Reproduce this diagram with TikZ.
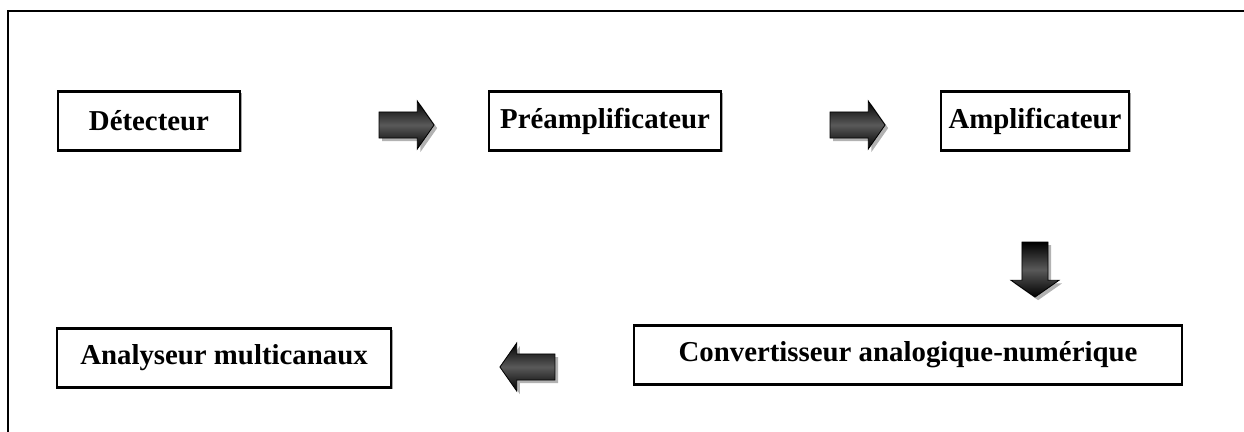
\documentclass[tikz,border=0pt]{standalone}
\usepackage{fontspec}
\setmainfont{Liberation Serif}
\usetikzlibrary{shapes.arrows,shadows}

\tikzset{
  etage/.style={shape=rectangle,draw=black,line width=1.5pt,fill=white,
    font=\fontsize{20.5}{24}\selectfont\bfseries,inner sep=0pt,
    minimum height=1.475cm,
    drop shadow={shadow xshift=1.2pt,shadow yshift=-1.2pt,fill=gray!70,opacity=1}},
  fleche/.style={single arrow,draw=black,line width=0.6pt,inner sep=0pt,
    text height=0.575cm,text depth=0pt,text width=0pt,
    minimum width=1.2cm,minimum height=1.375cm,single arrow tip angle=110,
    shading=axis,top color=black,bottom color=black,middle color=gray!70!black,
    drop shadow={shadow xshift=2.2pt,shadow yshift=-2.2pt,fill=gray!60,opacity=1}}
}

\begin{document}
\begin{tikzpicture}[x=0.025cm,y=-0.025cm]
\useasboundingbox (0,0) rectangle (1244,432);
\draw[line width=1pt] (8,432) -- (8,11) -- (1244,11);

\node[etage,minimum width=4.55cm] (D) at (149,121) {Détecteur};
\node[etage,minimum width=5.8cm] (P) at (605,121) {Préamplificateur};
\node[etage,minimum width=4.7cm] (A) at (1035,121) {Amplificateur};
\node[etage,minimum width=13.675cm] (C) at (908,355) {Convertisseur analogique-numérique};
\node[etage,minimum width=8.35cm] (M) at (224,358) {Analyseur multicanaux};

\node[fleche] (f1) at (402,125) {};
\node[fleche] (f2) at (853,125) {};
\node[fleche,rotate=-90] (f3) at (1035,265) {};
\node[fleche,rotate=180] (f4) at (532,367) {};
\end{tikzpicture}
\end{document}
